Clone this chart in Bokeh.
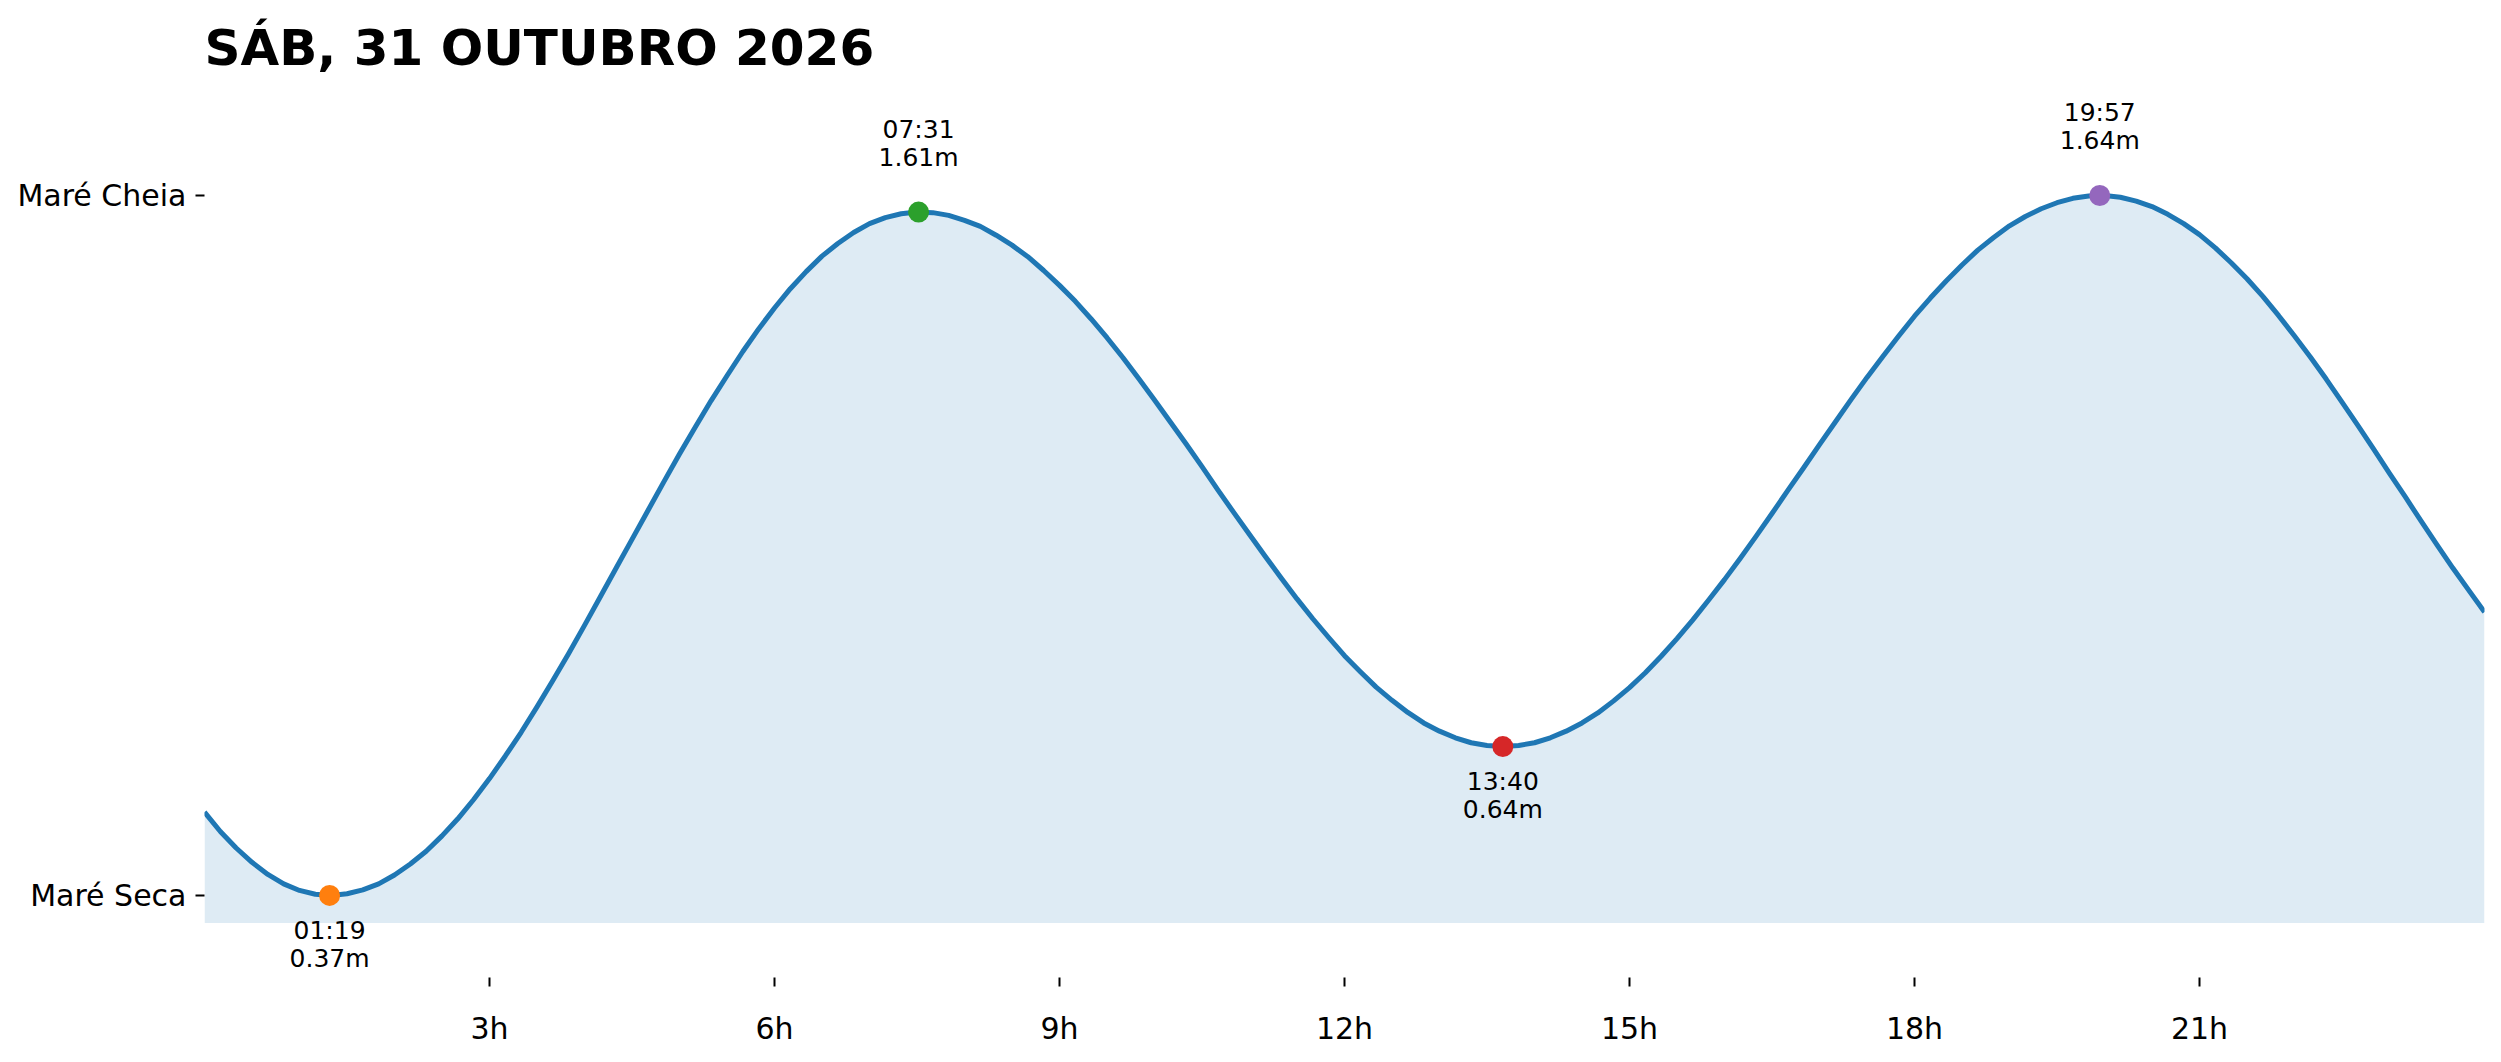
from bokeh.plotting import figure
from bokeh.models import Range1d, FixedTicker, ColumnDataSource
from bokeh.core.properties import value
from bokeh.embed import file_html
from bokeh.resources import INLINE

TITLE = "SÁB, 31 OUTUBRO 2026"

# tide curve, one reading every 10 minutes from 00:00 to 24:00
curve_minutes = list(range(0, 1441, 10))
curve_heights = [
    0.521, 0.486, 0.456, 0.430, 0.408, 0.391,   # 00h
    0.379, 0.372, 0.370, 0.373, 0.380, 0.391,   # 01h
    0.407, 0.427, 0.450, 0.478, 0.509, 0.544,   # 02h
    0.582, 0.623, 0.666, 0.712, 0.760, 0.809,   # 03h
    0.860, 0.912, 0.964, 1.016, 1.068, 1.120,   # 04h
    1.171, 1.220, 1.268, 1.313, 1.357, 1.398,   # 05h
    1.436, 1.471, 1.502, 1.530, 1.553, 1.573,   # 06h
    1.589, 1.600, 1.607, 1.610, 1.609, 1.604,   # 07h
    1.595, 1.584, 1.568, 1.550, 1.529, 1.504,   # 08h
    1.477, 1.448, 1.416, 1.382, 1.346, 1.308,   # 09h
    1.269, 1.229, 1.189, 1.148, 1.106, 1.065,   # 10h
    1.025, 0.985, 0.946, 0.908, 0.872, 0.838,   # 11h
    0.805, 0.776, 0.748, 0.724, 0.702, 0.683,   # 12h
    0.668, 0.656, 0.647, 0.642, 0.640, 0.642,   # 13h
    0.647, 0.656, 0.668, 0.683, 0.701, 0.723,   # 14h
    0.747, 0.774, 0.804, 0.836, 0.870, 0.906,   # 15h
    0.943, 0.982, 1.022, 1.063, 1.105, 1.146,   # 16h
    1.188, 1.229, 1.270, 1.310, 1.348, 1.385,   # 17h
    1.421, 1.454, 1.485, 1.514, 1.541, 1.564,   # 18h
    1.585, 1.602, 1.616, 1.627, 1.635, 1.639,   # 19h
    1.640, 1.637, 1.630, 1.620, 1.606, 1.589,   # 20h
    1.569, 1.545, 1.518, 1.489, 1.457, 1.422,   # 21h
    1.385, 1.347, 1.307, 1.265, 1.223, 1.180,   # 22h
    1.136, 1.093, 1.049, 1.006, 0.964, 0.924,   # 23h
    0.884,
]

# high / low tide events
event_times = ["01:19", "07:31", "13:40", "19:57"]
event_heights = [0.37, 1.61, 0.64, 1.64]
event_kinds = ["low", "high", "low", "high"]
event_colors = ["#ff7f0e", "#2ca02c", "#d62728", "#9467bd"]

tick_hours = [3, 6, 9, 12, 15, 18, 21]
tick_labels = ["3h", "6h", "9h", "12h", "15h", "18h", "21h"]
level_labels = ["Maré Seca", "Maré Cheia"]

FONT = "DejaVu Sans"


def to_hours(hhmm):
    h, m = hhmm.split(":")
    return int(h) + int(m) / 60


curve_x = [m / 60 for m in curve_minutes]
event_x = [to_hours(t) for t in event_times]
fill_base = min(event_heights) - 0.05

# top border is set by the title panel itself
p = figure(width=2494, height=1054,
           x_range=Range1d(0, 24), y_range=Range1d(0.221, 1.827),
           title=TITLE,
           output_backend="svg", toolbar_location=None,
           min_border_left=204, min_border_right=10,
           min_border_top=0, min_border_bottom=77)

p.title.text_font = FONT
p.title.text_font_size = "50px"
p.title.text_font_style = "bold"
p.title.text_color = "black"
p.title.align = "left"
p.title.standoff = 32

p.outline_line_color = None
p.xgrid.grid_line_color = None
p.ygrid.grid_line_color = None

p.varea(x=curve_x, y1=fill_base, y2=curve_heights,
        fill_color="#1f77b4", fill_alpha=0.15)
p.line(curve_x, curve_heights, line_color="#1f77b4", line_width=5,
       line_join="round")

p.scatter(event_x, event_heights, size=21,
          fill_color=event_colors, line_color=None)

for kind, offsets in (("high", (-83, -55)), ("low", (35, 63))):
    idx = [i for i, k in enumerate(event_kinds) if k == kind]
    src = ColumnDataSource(dict(
        x=[event_x[i] for i in idx],
        y=[event_heights[i] for i in idx],
        time=[event_times[i] for i in idx],
        height=["%.2fm" % event_heights[i] for i in idx],
    ))
    for col, off in zip(("time", "height"), offsets):
        p.text(x="x", y="y", text=col, source=src, y_offset=off,
               text_font=value(FONT), text_font_size="25px",
               text_align="center", text_baseline="middle",
               text_color="black")

# x axis: hours
p.xaxis.ticker = FixedTicker(ticks=tick_hours)
p.xaxis.major_label_overrides = dict(zip(tick_hours, tick_labels))
p.xaxis.minor_tick_line_color = None

# y axis: only low and high tide levels
levels = [min(event_heights), max(event_heights)]
p.yaxis.ticker = FixedTicker(ticks=levels)
p.yaxis.major_label_overrides = dict(zip(levels, level_labels))
p.yaxis.minor_tick_line_color = None

for ax in (p.xaxis, p.yaxis):
    ax.axis_line_color = None
    ax.major_tick_line_color = "black"
    ax.major_tick_line_width = 2
    ax.major_tick_in = 0
    ax.major_tick_out = 9
    ax.major_label_text_font = FONT
    ax.major_label_text_font_size = "30px"
    ax.major_label_text_color = "black"

p.xaxis.major_label_standoff = 24
p.yaxis.major_label_standoff = 9

open("out.html", "w").write(file_html(p, INLINE))
